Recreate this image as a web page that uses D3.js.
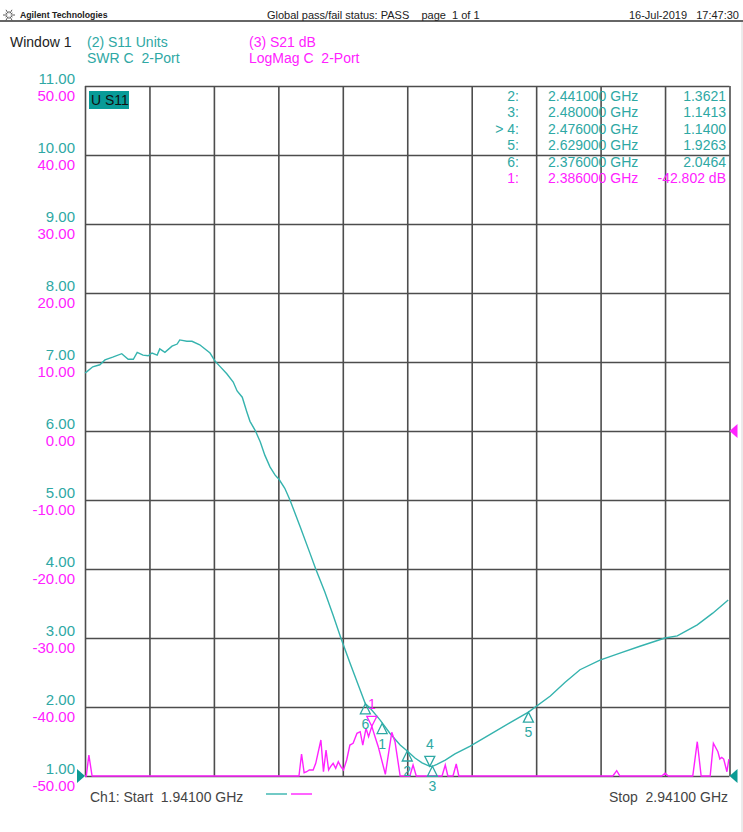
<!DOCTYPE html>
<html>
<head>
<meta charset="utf-8">
<script src="https://cdn.jsdelivr.net/npm/d3@7"></script>
<style>
body { margin: 0; background: #fff; }
svg { font-family: "Liberation Sans", Arial, sans-serif; }
</style>
</head>
<body>
<svg id="chart" width="743" height="832"></svg>
<script>
// S11 SWR trace (GHz, SWR units)
var swrFreq = [1.941, 1.944, 1.953, 1.964, 1.972, 1.984, 1.998, 2.008, 2.016, 2.022, 2.031, 2.039, 2.045, 2.053, 2.057,
	2.065, 2.076, 2.084, 2.088, 2.099, 2.107, 2.119, 2.135, 2.143, 2.150, 2.161, 2.171, 2.177, 2.185, 2.192, 2.197,
	2.205, 2.213, 2.220, 2.228, 2.236, 2.242, 2.251, 2.259, 2.275, 2.290, 2.299, 2.313, 2.326, 2.338, 2.352, 2.365,
	2.376, 2.383, 2.399, 2.414, 2.430, 2.441, 2.453, 2.464, 2.476, 2.480, 2.487, 2.500, 2.515, 2.538, 2.569, 2.600,
	2.629, 2.663, 2.686, 2.709, 2.740, 2.771, 2.802, 2.841, 2.860, 2.891, 2.915, 2.939]
var swrValue = [6.84, 6.86, 6.93, 6.96, 7.03, 7.07, 7.12, 7.04, 7.04, 7.14, 7.10, 7.09, 7.13, 7.10, 7.19,
	7.14, 7.23, 7.26, 7.32, 7.30, 7.30, 7.25, 7.13, 7.01, 6.94, 6.83, 6.71, 6.58, 6.49, 6.28, 6.14,
	6.01, 5.84, 5.65, 5.48, 5.36, 5.30, 5.17, 5.00, 4.61, 4.23, 4.00, 3.67, 3.33, 3.00, 2.64, 2.32,
	2.046, 1.99, 1.81, 1.62, 1.45, 1.362, 1.26, 1.19, 1.140, 1.141, 1.17, 1.23, 1.32, 1.43, 1.60, 1.77,
	1.926, 2.16, 2.36, 2.54, 2.68, 2.78, 2.88, 3.00, 3.03, 3.19, 3.36, 3.55]

// S21 LogMag trace (GHz, dB), -50 is the bottom of the screen
var s21Freq = [1.941, 1.943, 1.947, 1.952, 2.273, 2.277, 2.281, 2.285, 2.289, 2.295, 2.299, 2.307, 2.311, 2.315,
	2.319, 2.322, 2.326, 2.330, 2.334, 2.338, 2.342, 2.347, 2.352, 2.357, 2.363, 2.368, 2.372, 2.377, 2.381, 2.386,
	2.391, 2.396, 2.407, 2.417, 2.422, 2.430, 2.445, 2.450, 2.455, 2.495, 2.500, 2.504, 2.512, 2.517, 2.521, 2.760,
	2.766, 2.771, 2.836, 2.841, 2.846, 2.884, 2.891, 2.897, 2.911, 2.916, 2.923, 2.926, 2.929, 2.932, 2.937, 2.940]
var s21Value = [-50, -50, -46.96, -50, -50, -46.81, -49.52, -49.38, -49.13, -49.13, -48.16, -44.78, -49.38, -46.23,
	-49.13, -48.65, -48.16, -48.88, -47.93, -48.65, -49.13, -47.68, -45.51, -45.26, -43.81, -43.58, -45.51, -43.09, -44.30, -42.80,
	-44.30, -45.75, -49.75, -43.67, -45.03, -50, -50, -48.41, -50, -50, -48.41, -50, -50, -48.26, -50, -50,
	-49.23, -50, -50, -49.6, -50, -50, -45.03, -50, -50, -45.26, -46.48, -47.54, -47.3, -47.54, -49.38, -47.54]

// tick labels
var swrTicks = [1, 2, 3, 4, 5, 6, 7, 8, 9, 10, 11]
var dbTicks = [-50, -40, -30, -20, -10, 0, 10, 20, 30, 40, 50]
var freqGrid = [1.941, 2.041, 2.141, 2.241, 2.341, 2.441, 2.541, 2.641, 2.741, 2.841, 2.941]

// marker table
var tableIds = ["2:", "3:", "> 4:", "5:", "6:", "1:"]
var tableFreqs = ["2.441000 GHz", "2.480000 GHz", "2.476000 GHz", "2.629000 GHz", "2.376000 GHz", "2.386000 GHz"]
var tableValues = ["1.3621", "1.1413", "1.1400", "1.9263", "2.0464", "-42.802 dB"]
var tableTrace = ["s11", "s11", "s11", "s11", "s11", "s21"]

// markers drawn on the traces
var swrMarkerIds = ["6", "1", "2", "4", "3", "5"]
var swrMarkerFreqs = [2.376, 2.402, 2.441, 2.476, 2.480, 2.629]
var swrMarkerValues = [2.0464, 1.76, 1.3621, 1.1400, 1.1413, 1.9263]
var swrMarkerUp = [true, true, true, false, true, true]
var s21MarkerIds = ["1"]
var s21MarkerFreqs = [2.386]
var s21MarkerValues = [-42.802]

var teal = "#35b3ae"
var tealText = "#2ea8a4"
var magenta = "#ff22ff"
var gridColor = "#4d4d4d"

var plotLeft = 85, plotTop = 86, plotW = 644.5, plotH = 690

var svg = d3.select("#chart")

//header
svg.append("line").attr("x1", 0).attr("x2", 743).attr("y1", 21).attr("y2", 21)
	.attr("stroke", "#666").attr("stroke-width", 2)
svg.append("line").attr("x1", 742).attr("x2", 742).attr("y1", 22).attr("y2", 832)
	.attr("stroke", "#d8d8d8").attr("stroke-width", 1)

var logo = svg.append("g").attr("transform", "translate(9,15)")
for(i = 0; i < 12; i++) {
	var a = i * Math.PI / 6
	var r0 = 2, r1 = (i % 2 == 0) ? 6 : 4
	logo.append("line")
		.attr("x1", r0 * Math.cos(a)).attr("y1", r0 * Math.sin(a))
		.attr("x2", r1 * Math.cos(a)).attr("y2", r1 * Math.sin(a))
		.attr("stroke", "#333").attr("stroke-width", 0.8)
}
svg.append("text").attr("x", 20).attr("y", 18).attr("font-size", 9.7).attr("font-weight", "bold")
	.attr("fill", "#222").attr("transform", "translate(20,18) scale(0.9,1) translate(-20,-18)")
	.text("Agilent Technologies")
svg.append("text").attr("x", 267).attr("y", 19).attr("font-size", 11).attr("fill", "#222")
	.text("Global pass/fail status: PASS    page  1 of 1").style("white-space", "pre")
svg.append("text").attr("x", 739).attr("y", 19).attr("font-size", 11).attr("fill", "#222")
	.attr("text-anchor", "end").style("white-space", "pre").text("16-Jul-2019   17:47:30")

svg.append("text").attr("x", 10).attr("y", 47).attr("font-size", 14).attr("fill", "#222").text("Window 1")
svg.append("text").attr("x", 87).attr("y", 47).attr("font-size", 14).attr("fill", tealText).text("(2) S11 Units")
svg.append("text").attr("x", 87).attr("y", 63).attr("font-size", 14).attr("fill", tealText)
	.style("white-space", "pre").text("SWR C  2-Port")
svg.append("text").attr("x", 249).attr("y", 47).attr("font-size", 14).attr("fill", magenta).text("(3) S21 dB")
svg.append("text").attr("x", 249).attr("y", 63).attr("font-size", 14).attr("fill", magenta)
	.style("white-space", "pre").text("LogMag C  2-Port")

var g = svg.append("g").attr("transform", "translate(" + plotLeft + "," + plotTop + ")")

var x = d3.scaleLinear().domain([1.941, 2.941]).range([0, plotW])
var ySwr = d3.scaleLinear().domain([1, 11]).range([plotH, 0])
var yDb = d3.scaleLinear().domain([-50, 50]).range([plotH, 0])

//grid
var vgrid = g.append("g").attr("transform", "translate(0," + plotH + ")")
	.call(d3.axisBottom(x).tickValues(freqGrid).tickSize(-plotH).tickFormat(""))
var hgrid = g.append("g")
	.call(d3.axisLeft(ySwr).tickValues(swrTicks).tickSize(-plotW).tickFormat(""))
g.selectAll(".domain").remove()
g.selectAll(".tick line").attr("stroke", gridColor).attr("stroke-width", 1.6)

//tick labels, teal above each line and magenta below
function fixed2(d) { return d.toFixed(2) }
var swrAxis = g.append("g")
	.call(d3.axisLeft(ySwr).tickValues(swrTicks).tickSize(0).tickPadding(10).tickFormat(fixed2))
swrAxis.selectAll("text").attr("dy", "-0.15em").attr("font-size", 15).attr("fill", tealText)
	.style("font-family", '"Liberation Sans", Arial, sans-serif')
var dbAxis = g.append("g")
	.call(d3.axisLeft(yDb).tickValues(dbTicks).tickSize(0).tickPadding(10).tickFormat(fixed2))
dbAxis.selectAll("text").attr("dy", "0.95em").attr("font-size", 15).attr("fill", magenta)
	.style("font-family", '"Liberation Sans", Arial, sans-serif')
g.selectAll(".domain").remove()

//U S11 tag
g.append("rect").attr("x", 4).attr("y", 5).attr("width", 40).attr("height", 18).attr("fill", "#089b98")
g.append("text").attr("x", 6).attr("y", 19).attr("font-size", 14).attr("fill", "#111").text("U S11")

//marker table
var rows = g.append("g")
for(i = 0; i < tableIds.length; i++) {
	var col = tableTrace[i] == "s21" ? magenta : tealText
	var yy = 15 + i * 16.4
	rows.append("text").attr("x", 434).attr("y", yy).attr("text-anchor", "end")
		.attr("font-size", 14).attr("fill", col).style("white-space", "pre").text(tableIds[i])
	rows.append("text").attr("x", 463).attr("y", yy)
		.attr("font-size", 14).attr("fill", col).text(tableFreqs[i])
	rows.append("text").attr("x", 641).attr("y", yy).attr("text-anchor", "end")
		.attr("font-size", 14).attr("fill", col).text(tableValues[i])
}

//traces
var swrData = swrFreq.map(function(f, i) { return {f: f, v: swrValue[i]} })
var s21Data = s21Freq.map(function(f, i) { return {f: f, v: s21Value[i]} })

g.append("path").datum(swrData)
	.attr("fill", "none").attr("stroke", teal).attr("stroke-width", 1.4)
	.attr("d", d3.line().x(function(d) { return x(d.f) }).y(function(d) { return ySwr(d.v) }))
g.append("path").datum(s21Data)
	.attr("fill", "none").attr("stroke", magenta).attr("stroke-width", 1.4)
	.attr("d", d3.line().x(function(d) { return x(d.f) }).y(function(d) { return yDb(d.v) }))

//markers
function marker(px, py, up, label, col) {
	var s = 5, h = 10
	var pts = up ? [[px, py], [px - s, py + h], [px + s, py + h]] : [[px, py], [px - s, py - h], [px + s, py - h]]
	g.append("path").attr("d", "M" + pts.join("L") + "Z")
		.attr("fill", "none").attr("stroke", col).attr("stroke-width", 1.3)
	g.append("text").attr("x", px).attr("y", up ? py + 25 : py - 17)
		.attr("text-anchor", "middle").attr("font-size", 14).attr("fill", col).text(label)
}
for(i = 0; i < swrMarkerIds.length; i++) {
	marker(x(swrMarkerFreqs[i]), ySwr(swrMarkerValues[i]), swrMarkerUp[i], swrMarkerIds[i], tealText)
}
for(i = 0; i < s21MarkerIds.length; i++) {
	marker(x(s21MarkerFreqs[i]), yDb(s21MarkerValues[i]), false, s21MarkerIds[i], magenta)
}

//reference arrows
function arrow(px, py, dir, col) {
	g.append("path")
		.attr("d", "M" + px + "," + py + "L" + (px + dir * 8) + "," + (py - 7) + "L" + (px + dir * 8) + "," + (py + 7) + "Z")
		.attr("fill", col)
}
arrow(0, ySwr(1), -1, "#0c9b94")
arrow(plotW, ySwr(1), 1, "#0c9b94")
arrow(plotW, yDb(0), 1, magenta)

//footer
svg.append("text").attr("x", 90).attr("y", 802).attr("font-size", 14).attr("fill", "#444")
	.style("white-space", "pre").text("Ch1: Start  1.94100 GHz")
svg.append("line").attr("x1", 266).attr("x2", 287).attr("y1", 794).attr("y2", 794)
	.attr("stroke", teal).attr("stroke-width", 1.4)
svg.append("line").attr("x1", 291).attr("x2", 312).attr("y1", 794).attr("y2", 794)
	.attr("stroke", magenta).attr("stroke-width", 1.4)
svg.append("text").attr("x", 728).attr("y", 802).attr("font-size", 14).attr("fill", "#444")
	.attr("text-anchor", "end").style("white-space", "pre").text("Stop  2.94100 GHz")
</script>
</body>
</html>
